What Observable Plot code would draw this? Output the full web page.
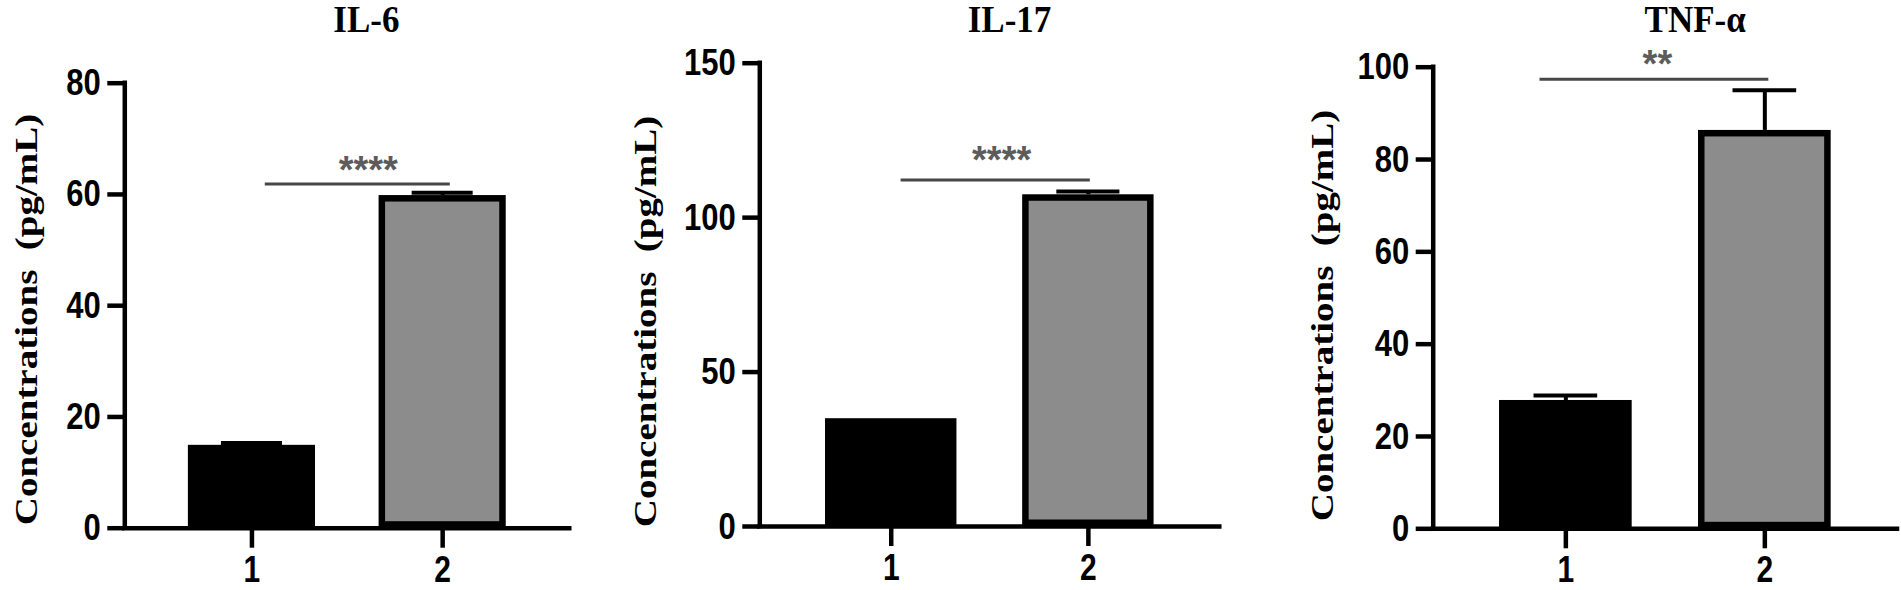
<!DOCTYPE html>
<html>
<head>
<meta charset="utf-8">
<script src="https://cdn.jsdelivr.net/npm/d3@7"></script>
<script src="https://cdn.jsdelivr.net/npm/@observablehq/plot@0.6"></script>
<style>
  html, body { margin: 0; padding: 0; background: #fff; width: 1901px; height: 590px; overflow: hidden; }
  .panel { position: absolute; top: 0; }
  .panel svg { overflow: visible; }
</style>
</head>
<body>
<div id="p0" class="panel" style="left:0px"></div>
<div id="p1" class="panel" style="left:620px"></div>
<div id="p2" class="panel" style="left:1250px"></div>
<script>
// ---------------- data ----------------
const panelTitles = ["IL-6", "IL-17", "TNF-\u03b1"];
const groups = [1, 2];
const groupTickLabels = ["1", "2"];

const il6Mean = [14.9, 59.8];
const il6Sem = [0.4, 0.5];
const il17Mean = [34.9, 107.4];
const il17Sem = [0, 1.1];
const tnfMean = [27.8, 86.3];
const tnfSem = [1.1, 8.7];

const yMax = [80, 150, 100];
const il6Ticks = [0, 20, 40, 60, 80];
const il17Ticks = [0, 50, 100, 150];
const tnfTicks = [0, 20, 40, 60, 80, 100];

const sigLabels = ["****", "****", "**"];
const sigY = [61.9, 112.2, 97.4];
const sigX1 = [1.07, 1.05, 0.87];
const sigX2 = [2.04, 2.01, 2.02];
const starX = [1.61, 1.56, 1.46];
const starY = [65.2, 120.1, 101.6];
const titleX = [1.60, 1.60, 1.65];

const yLabel = "Concentrations\u00a0 (pg/mL)";

// ---------------- assembly ----------------
const means = [il6Mean, il17Mean, tnfMean];
const sems = [il6Sem, il17Sem, tnfSem];
const ticks = [il6Ticks, il17Ticks, tnfTicks];

const layout = [
  {width: 620, marginLeft: 124.3, marginRight: 50.7, marginTop: 82.7, marginBottom: 62.3, labelDx: -98,  labelY: 319},
  {width: 630, marginLeft: 139.3, marginRight: 30.7, marginTop: 62.7, marginBottom: 64.0, labelDx: -114, labelY: 321},
  {width: 651, marginLeft: 182.7, marginRight: 4.0,  marginTop: 66.7, marginBottom: 61.7, labelDx: -111, labelY: 315}
];

const SANS = "'Liberation Sans', Arial, sans-serif";
const SERIF = "'Liberation Serif', 'Times New Roman', serif";
const halfBar = 1 / 3;
const halfCap = 0.16;
const xDomain = [1 / 3, 8 / 3];
const titleBaseline = 30.5;
const H = 590;
const textStretch = 1.2;   // the original figure's lettering is vertically elongated
const titleStretch = 1.1;

function makePanel(i) {
  const L = layout[i];
  const rows = groups.map((g, j) => ({
    g, mean: means[i][j], sem: sems[i][j], top: means[i][j] + sems[i][j]
  }));
  const errRows = rows.filter(d => d.sem > 0);
  const sig = [{x1: sigX1[i], x2: sigX2[i], y: sigY[i]}];
  const stars = [{x: starX[i], y: starY[i], t: sigLabels[i]}];
  const title = [{x: titleX[i], t: panelTitles[i]}];
  const frameMid = L.marginTop + (H - L.marginTop - L.marginBottom) / 2;

  return Plot.plot({
    width: L.width,
    height: H,
    marginLeft: L.marginLeft,
    marginRight: L.marginRight,
    marginTop: L.marginTop,
    marginBottom: L.marginBottom,
    style: {background: "transparent", color: "#000"},
    x: {domain: xDomain},
    y: {domain: [0, yMax[i]]},
    marks: [
      // group 1: solid black bar
      Plot.rectY(rows.filter(d => d.g === groups[0]), {
        x1: d => d.g - halfBar, x2: d => d.g + halfBar, y1: 0, y2: "mean",
        fill: "#000"
      }),
      // group 2: grey bar with thick black outline (drawn inside)
      Plot.rectY(rows.filter(d => d.g === groups[1]), {
        x1: d => d.g - halfBar, x2: d => d.g + halfBar, y1: 0, y2: "mean",
        fill: "#8c8c8c", stroke: "#000", strokeWidth: 6.5, inset: 3.25
      }),
      // error bars (upward only)
      Plot.ruleX(errRows, {x: "g", y1: "mean", y2: "top", stroke: "#000", strokeWidth: 4}),
      Plot.ruleY(errRows, {y: "top", x1: d => d.g - halfCap, x2: d => d.g + halfCap, stroke: "#000", strokeWidth: 4}),
      // significance line and stars
      Plot.ruleY(sig, {x1: "x1", x2: "x2", y: "y", stroke: "#474747", strokeWidth: 3}),
      Plot.text(stars, {
        x: "x", y: "y", text: "t", fill: "#5c5c5c",
        fontSize: 38, fontWeight: "bold", fontFamily: SANS,
        lineAnchor: "bottom", dy: 17
      }),
      // axes
      Plot.ruleX([xDomain[0]], {stroke: "#000", strokeWidth: 4.5, strokeLinecap: "square"}),
      Plot.ruleY([0], {stroke: "#000", strokeWidth: 4.5, strokeLinecap: "square"}),
      Plot.axisY({
        ticks: ticks[i], tickFormat: d => String(d), tickSize: 17, tickPadding: 7,
        stroke: "#000", strokeWidth: 4.5, fontSize: 31, fontWeight: "bold", fontFamily: SANS,
        label: null
      }),
      Plot.axisX({
        ticks: groups, tickFormat: d => groupTickLabels[groups.indexOf(d)],
        tickSize: 20, tickPadding: 10,
        stroke: "#000", strokeWidth: 4.5, fontSize: 30, fontWeight: "bold", fontFamily: SANS,
        label: null
      }),
      // y-axis title
      Plot.text([yLabel], {
        text: d => d, frameAnchor: "left", rotate: -90, dx: L.labelDx, dy: L.labelY - frameMid,
        fontSize: 32.5, fontWeight: "bold", fontFamily: SERIF, fill: "#000",
        textAnchor: "middle", lineAnchor: "middle"
      }),
      // panel title
      Plot.text(title, {
        x: "x", text: "t", frameAnchor: "top", dy: titleBaseline - L.marginTop,
        lineAnchor: "bottom", fontSize: 35, fontWeight: "bold", fontFamily: SERIF, fill: "#000"
      })
    ]
  });
}

// Elongate lettering vertically (as in the source figure), keeping the text real text.
function stretchTexts(svg) {
  svg.querySelectorAll("text").forEach(t => {
    const content = t.textContent || "";
    if (content.includes("*")) return;
    const b = t.getBBox();
    if (!b.width && !b.height) return;
    const s = panelTitles.includes(content) ? titleStretch : textStretch;
    const prev = t.getAttribute("transform") || "";
    const rotated = /rotate\(\s*-?90/.test(prev);
    const cx = b.x + b.width / 2;
    const cy = b.y + b.height / 2;
    const extra = rotated
      ? `translate(${cx},${cy}) scale(${s},1) translate(${-cx},${-cy})`
      : `translate(${cx},${cy}) scale(1,${s}) translate(${-cx},${-cy})`;
    t.setAttribute("transform", (prev ? prev + " " : "") + extra);
  });
}

const svgs = [];
for (let i = 0; i < 3; i++) {
  const svg = makePanel(i);
  document.getElementById("p" + i).appendChild(svg);
  svgs.push(svg);
}
svgs.forEach(stretchTexts);
</script>
</body>
</html>
